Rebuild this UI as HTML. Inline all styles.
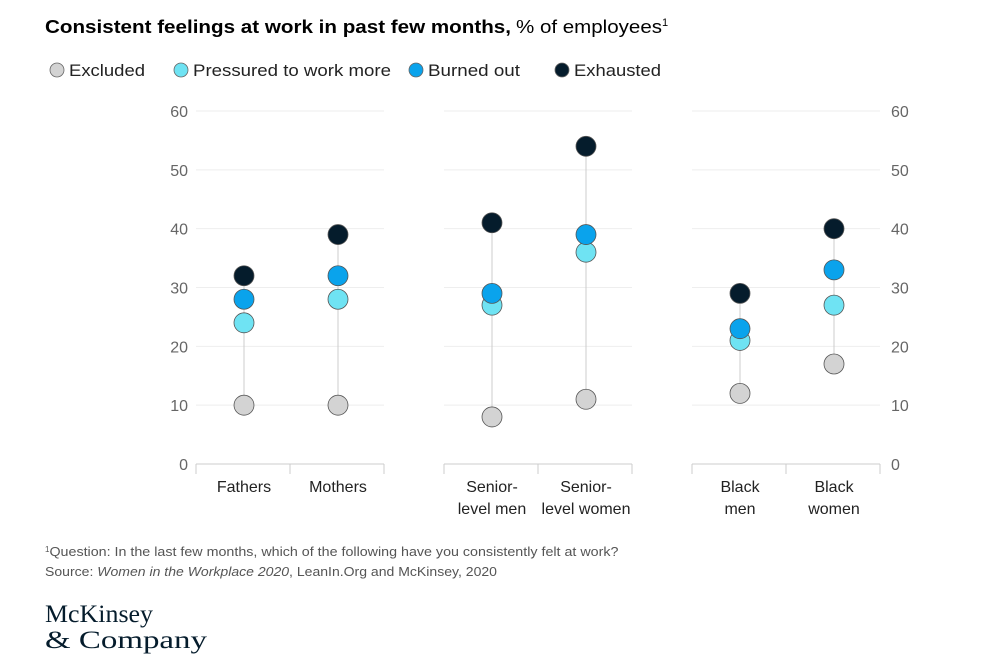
<!DOCTYPE html>
<html><head><meta charset="utf-8"><style>
body{margin:0;background:#fff;width:993px;height:660px;overflow:hidden;font-family:"Liberation Sans",sans-serif}
</style></head><body>
<svg width="993" height="660" xmlns="http://www.w3.org/2000/svg" id="chart">
<text x="45" y="33" font-size="18.5" fill="#000"><tspan font-weight="bold" textLength="466" lengthAdjust="spacingAndGlyphs">Consistent feelings at work in past few months,</tspan><tspan dx="5" textLength="146" lengthAdjust="spacingAndGlyphs">% of employees</tspan><tspan font-size="11" dy="-7">1</tspan></text>
<g id="legend"></g>
<g id="grid"></g><g id="marks"></g>
<text x="45" y="556" font-size="12.5" fill="#555"><tspan font-size="8" dy="-4">1</tspan><tspan dy="4" textLength="569" lengthAdjust="spacingAndGlyphs">Question: In the last few months, which of the following have you consistently felt at work?</tspan></text>
<text x="45" y="576" font-size="12.5" fill="#555" textLength="452" lengthAdjust="spacingAndGlyphs">Source: <tspan font-style="italic">Women in the Workplace 2020</tspan>, LeanIn.Org and McKinsey, 2020</text>
<text x="45" y="622" font-size="25" font-family="Liberation Serif,serif" fill="#051c2c" textLength="108" lengthAdjust="spacingAndGlyphs">McKinsey</text>
<text x="45" y="648" font-size="25" font-family="Liberation Serif,serif" fill="#051c2c" textLength="162" lengthAdjust="spacingAndGlyphs">&amp; Company</text>
</svg>
<script>
const categories=[["Fathers"],["Mothers"],["Senior-","level men"],["Senior-","level women"],["Black","men"],["Black","women"]];
const excluded=[10,10,8,11,12,17];
const pressured=[24,28,27,36,21,27];
const burned=[28,32,29,39,23,33];
const exhausted=[32,39,41,54,29,40];
const yTicks=[0,10,20,30,40,50,60];
const seriesNames=["Excluded","Pressured to work more","Burned out","Exhausted"];
const colors=["#d3d3d3","#6fe3f3","#0aa3ec","#051c2c"];
const NS="http://www.w3.org/2000/svg";
function el(t,a,p){const e=document.createElementNS(NS,t);for(const k in a)e.setAttribute(k,a[k]);p.appendChild(e);return e;}
const y=v=>464-v*(353/60);
const groupStarts=[196,444,692],groupW=188;
const x=i=>groupStarts[Math.floor(i/2)]+(i%2===0?0.25:0.75)*groupW+1;
const grid=document.getElementById('grid'),marks=document.getElementById('marks'),svg=document.getElementById('chart'),leg=document.getElementById('legend');
const legX=[57,181,416,562];
const legW=[76,198,92,87];
seriesNames.forEach((n,i)=>{
 const c=el('circle',{cx:legX[i],cy:70,r:7,fill:colors[i],stroke:'#666','stroke-width':0.8},leg);
 
 
 const t=el('text',{x:legX[i]+12,y:76,'font-size':17,fill:'#222',textLength:legW[i],lengthAdjust:'spacingAndGlyphs'},leg);t.textContent=n;
 
 
});
yTicks.forEach(v=>{
 groupStarts.forEach(g=>{
  const l=el('line',{x1:g,x2:g+groupW,y1:y(v),y2:y(v),stroke:v===0?'#ccc':'#eee','stroke-width':1},grid);
  
  
 });
 const a=el('text',{x:188,y:y(v)+6,'font-size':16,fill:'#666','text-anchor':'end'},grid);a.textContent=v;
 
 
 const b=el('text',{x:891,y:y(v)+6,'font-size':16,fill:'#666'},grid);b.textContent=v;
 
 
});
groupStarts.forEach(g=>{[0,0.5,1].forEach(f=>{el('line',{x1:g+f*groupW,x2:g+f*groupW,y1:464,y2:474,stroke:'#ccc'},grid);});});
categories.forEach((c,i)=>{
 const vals=[excluded[i],pressured[i],burned[i],exhausted[i]];
 const ln=el('line',{x1:x(i),x2:x(i),y1:y(Math.min(...vals)),y2:y(Math.max(...vals)),stroke:'#ccc'},marks);
 
 
 vals.forEach((v,s)=>{
  const d=el('circle',{cx:x(i),cy:y(v),r:10,fill:colors[s],stroke:'#555','stroke-width':0.8},marks);
  
  
 });
 c.forEach((line,k)=>{
  const t=el('text',{x:x(i),y:492+k*22,'font-size':16,fill:'#222','text-anchor':'middle'},marks);t.textContent=line;
  
  
 });
});
</script>
</body></html>
